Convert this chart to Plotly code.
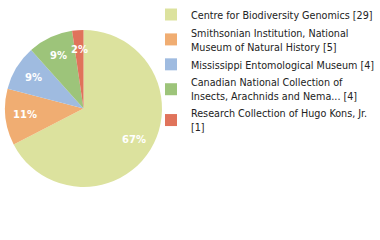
import math
import plotly.graph_objects as go

labels = [
    "Centre for Biodiversity Genomics [29]",
    "Smithsonian Institution, National<br>Museum of Natural History [5]",
    "Mississippi Entomological Museum [4]",
    "Canadian National Collection of<br>Insects, Arachnids and Nema... [4]",
    "Research Collection of Hugo Kons, Jr.<br>[1]",
]
values = [29, 5, 4, 4, 1]
colors = ["#dce29e", "#f0ad72", "#9fbbe0", "#9dc47a", "#e0735b"]

W, H = 380, 240
dom_x = [5 / W, 162 / W]
dom_y = [1 - 187 / H, 1 - 30 / H]

total = sum(values)
pct_text = [f"{math.floor(v * 100 / total)}%" for v in values]

fig = go.Figure()
fig.add_trace(go.Pie(
    labels=labels,
    values=values,
    sort=False,
    direction="clockwise",
    rotation=0,
    marker=dict(colors=colors, line=dict(width=0)),
    textinfo="none",
    textposition="none",
    domain=dict(x=dom_x, y=dom_y),
    hoverinfo="skip",
))

# percentage labels placed along each slice's bisector (computed from the data)
cx = (dom_x[0] + dom_x[1]) / 2 * W
cy = (1 - (dom_y[0] + dom_y[1]) / 2) * H
R = min((dom_x[1] - dom_x[0]) * W, (dom_y[1] - dom_y[0]) * H) / 2
acc = 0
for v, t in zip(values, pct_text):
    a = math.radians((acc + v / 2) / total * 360)
    acc += v
    px = cx + 0.75 * R * math.sin(a)
    py = cy - 0.75 * R * math.cos(a)
    fig.add_annotation(
        x=px / W, y=1 - py / H, xref="paper", yref="paper",
        text=t, showarrow=False, xanchor="center", yanchor="middle",
        font=dict(color="white", size=10, family="DejaVu Sans", weight="bold"),
    )

fig.update_layout(
    width=W, height=H,
    margin=dict(l=0, r=0, t=0, b=0),
    paper_bgcolor="white",
    showlegend=True,
    legend=dict(
        x=1.0, y=1.0, xanchor="right", yanchor="top",
        font=dict(family="DejaVu Sans Condensed", size=10.7, color="#222"),
        itemwidth=30,
        tracegroupgap=0,
        bgcolor="rgba(0,0,0,0)",
    ),
)

fig.write_html("out.html")
